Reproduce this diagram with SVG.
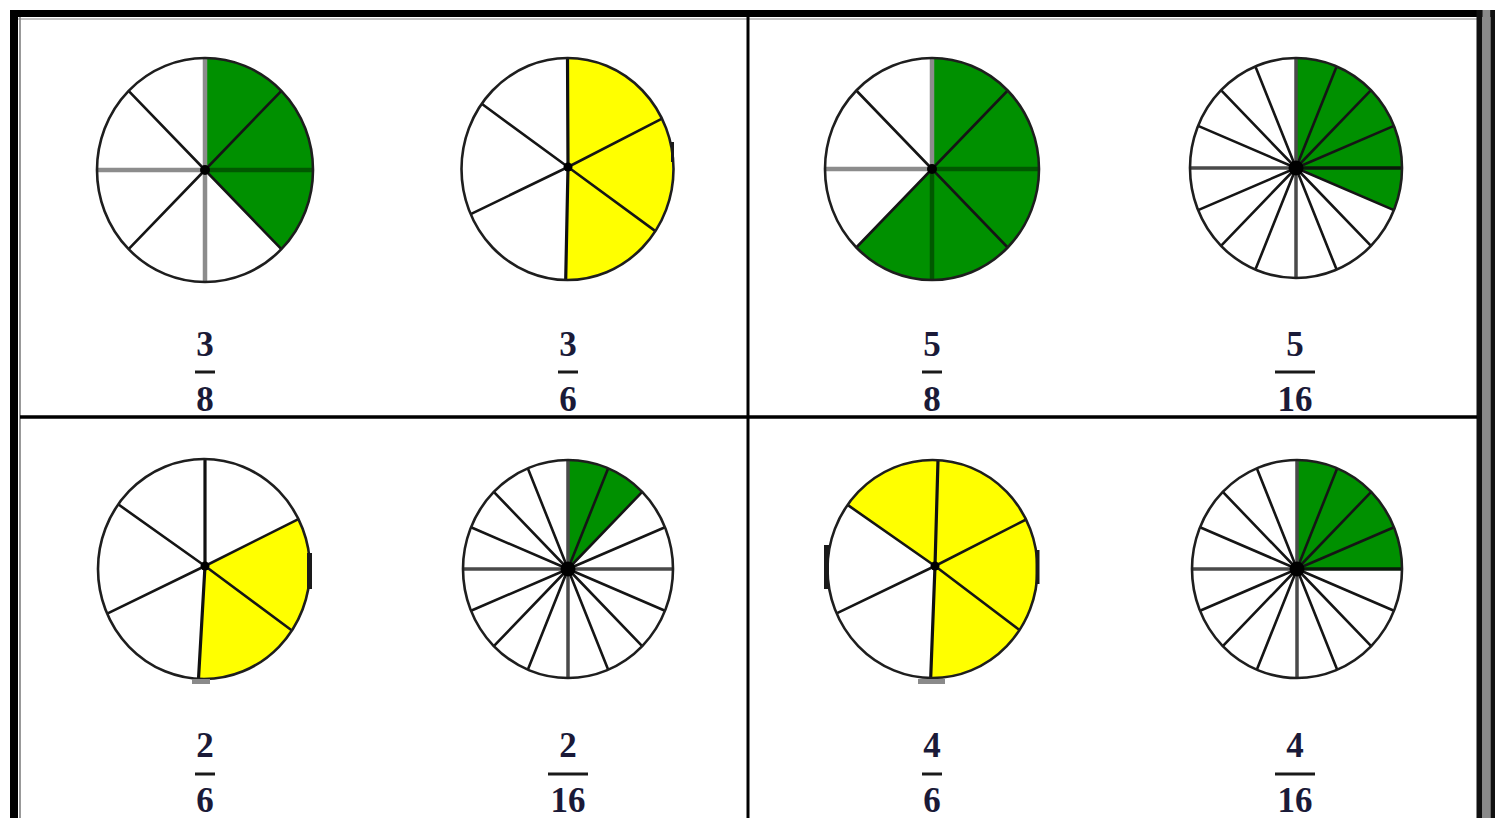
<svg xmlns="http://www.w3.org/2000/svg" width="1495" height="818" viewBox="0 0 1495 818">
<style>
.bg{fill:#ffffff}
.face{fill:#ffffff;stroke:none}
.rim{fill:none;stroke:#1e1e1e;stroke-width:2.6}
.g{fill:#009000}
.y{fill:#ffff00}
.d{stroke:#151515;stroke-width:2.6;fill:none}
.ax{stroke:#8c8c8c;stroke-width:4.5;fill:none}
.axg{stroke:#005800;stroke-width:4.5;fill:none}
.ax16{stroke:#4a4a4a;stroke-width:3.5;fill:none}
.ax16g{stroke:#0a1a0a;stroke-width:3.5;fill:none}
.v6{stroke:#111;stroke-width:3.2;fill:none}
.hub{fill:#000}
.num{font-family:"Liberation Serif","DejaVu Serif",serif;font-weight:bold;font-size:35px;fill:#1a1a38;text-anchor:middle}
.bar{stroke:#1a1a1a;stroke-width:3}
.mark{fill:#1a1a1a}
.gmark{fill:#8a8a8a}
</style>
<rect class="bg" x="0" y="0" width="1495" height="818"/>

<g id="table">
  <rect x="10" y="10" width="1485" height="7" fill="#000"/>
  <rect x="10" y="10" width="8" height="808" fill="#000"/>
  <line x1="20" y1="17" x2="20" y2="818" stroke="#777" stroke-width="1.5"/>
  <line x1="18" y1="19" x2="1477" y2="19" stroke="#888" stroke-width="1.2"/>
  <rect x="1476.5" y="10" width="6" height="808" fill="#111"/>
  <rect x="1482.5" y="10" width="8" height="808" fill="#8a8a8a"/>
  <rect x="1490.5" y="10" width="4.5" height="808" fill="#111"/>
  <line x1="748" y1="17" x2="748" y2="818" stroke="#000" stroke-width="3"/>
  <line x1="20" y1="417" x2="1477" y2="417" stroke="#000" stroke-width="3.5"/>
</g>

<g id="pie-3-8">
  <ellipse class="face" cx="205" cy="170" rx="108" ry="112"/>
  <path class="g" d="M205,170 L205,58 A108,112 0 0 1 281.4,249.2 Z"/>
  <path class="d" d="M205,170 L281.4,90.8 M205,170 L281.4,249.2 M205,170 L128.6,249.2 M205,170 L128.6,90.8"/>
  <path class="ax" d="M205,58 L205,282 M97,170 L205,170"/>
  <path class="axg" d="M205,170 L313,170"/>
  <ellipse class="rim" cx="205" cy="170" rx="108" ry="112"/>
  <circle class="hub" cx="205" cy="170" r="5"/>
  <text class="num" x="205" y="356">3</text>
  <line class="bar" x1="195" y1="372" x2="215" y2="372"/>
  <text class="num" x="205" y="411">8</text>
</g>

<g id="pie-3-6">
  <ellipse class="face" cx="567.5" cy="169" rx="106" ry="111"/>
  <path class="y" d="M568,167 L567.5,58 A106,111 0 1 1 565.7,280 Z"/>
  <path class="d" d="M568,167 L662,118.6 M568,167 L655.4,231.1 M568,167 L470.7,214.1 M568,167 L481.7,103.8"/>
  <path class="v6" d="M567.5,58 L568,167 L565.7,280"/>
  <ellipse class="rim" cx="567.5" cy="169" rx="106" ry="111"/>
  <rect class="mark" x="671" y="142" width="3" height="20"/>
  <circle class="hub" cx="568" cy="167" r="4.5"/>
  <text class="num" x="568" y="356">3</text>
  <line class="bar" x1="558" y1="372" x2="578" y2="372"/>
  <text class="num" x="568" y="411">6</text>
</g>

<g id="pie-5-8">
  <ellipse class="face" cx="932" cy="169" rx="107" ry="111"/>
  <path class="g" d="M932,169 L932,58 A107,111 0 1 1 856.3,247.5 Z"/>
  <path class="d" d="M932,169 L1007.7,90.5 M932,169 L1007.7,247.5 M932,169 L856.3,247.5 M932,169 L856.3,90.5"/>
  <path class="ax" d="M932,58 L932,169 M825,169 L932,169"/>
  <path class="axg" d="M932,169 L932,280 M932,169 L1039,169"/>
  <ellipse class="rim" cx="932" cy="169" rx="107" ry="111"/>
  <circle class="hub" cx="932" cy="169" r="5"/>
  <text class="num" x="932" y="356">5</text>
  <line class="bar" x1="922" y1="372" x2="942" y2="372"/>
  <text class="num" x="932" y="411">8</text>
</g>

<g id="pie-5-16">
  <ellipse class="face" cx="1296" cy="168" rx="106" ry="110"/>
  <path class="g" d="M1296,168 L1296,58 A106,110 0 0 1 1393.9,210.1 Z"/>
  <path class="d" d="M1296,168 L1336.6,66.4 M1296,168 L1371,90.2 M1296,168 L1393.9,125.9 M1296,168 L1393.9,210.1 M1296,168 L1371,245.8 M1296,168 L1336.6,269.6 M1296,168 L1255.4,269.6 M1296,168 L1221,245.8 M1296,168 L1198.1,210.1 M1296,168 L1198.1,125.9 M1296,168 L1221,90.2 M1296,168 L1255.4,66.4"/>
  <path class="ax16" d="M1296,58 L1296,278 M1190,168 L1296,168"/>
  <path class="ax16g" d="M1296,168 L1402,168"/>
  <ellipse class="rim" cx="1296" cy="168" rx="106" ry="110"/>
  <circle class="hub" cx="1296" cy="168" r="7.5"/>
  <text class="num" x="1295" y="356">5</text>
  <line class="bar" x1="1275" y1="372" x2="1315" y2="372"/>
  <text class="num" x="1295" y="411">16</text>
</g>

<g id="pie-2-6">
  <ellipse class="face" cx="204" cy="569" rx="106" ry="110"/>
  <path class="y" d="M205,566 L298.4,519.1 A106,110 0 0 1 198.5,678.8 Z"/>
  <path class="d" d="M205,566 L298.4,519.1 M205,566 L291.9,630.5 M205,566 L107.2,613.7 M205,566 L118.2,504.3"/>
  <path class="v6" d="M205,459 L205,566 L198.5,678.8"/>
  <ellipse class="rim" cx="204" cy="569" rx="106" ry="110"/>
  <rect class="mark" x="307" y="553" width="5" height="36"/>
  <rect class="gmark" x="192" y="679" width="18" height="5"/>
  <circle class="hub" cx="205" cy="566" r="4.5"/>
  <text class="num" x="205" y="757">2</text>
  <line class="bar" x1="195" y1="774" x2="215" y2="774"/>
  <text class="num" x="205" y="812">6</text>
</g>

<g id="pie-2-16">
  <ellipse class="face" cx="568" cy="569" rx="105" ry="109"/>
  <path class="g" d="M568,569 L568,460 A105,109 0 0 1 642.2,491.9 Z"/>
  <path class="d" d="M568,569 L608.2,468.3 M568,569 L642.2,491.9 M568,569 L665,527.3 M568,569 L665,610.7 M568,569 L642.2,646.1 M568,569 L608.2,669.7 M568,569 L527.8,669.7 M568,569 L493.8,646.1 M568,569 L471,610.7 M568,569 L471,527.3 M568,569 L493.8,491.9 M568,569 L527.8,468.3"/>
  <path class="ax16" d="M568,460 L568,678 M463,569 L673,569"/>
  <ellipse class="rim" cx="568" cy="569" rx="105" ry="109"/>
  <circle class="hub" cx="568" cy="569" r="7.5"/>
  <text class="num" x="568" y="757">2</text>
  <line class="bar" x1="548" y1="774" x2="588" y2="774"/>
  <text class="num" x="568" y="812">16</text>
</g>

<g id="pie-4-6">
  <ellipse class="face" cx="932.5" cy="569" rx="105" ry="109"/>
  <path class="y" d="M935,566 L847.6,504.9 A105,109 0 1 1 930.7,678 Z"/>
  <path class="d" d="M935,566 L1026.1,519.5 M935,566 L1019.5,630 M935,566 L836.6,613.3 M935,566 L847.6,504.9"/>
  <path class="v6" d="M938,460 L935,566 L930.7,678"/>
  <ellipse class="rim" cx="932.5" cy="569" rx="105" ry="109"/>
  <rect class="mark" x="824" y="545" width="5" height="44"/>
  <rect class="mark" x="1035.5" y="550" width="4" height="34"/>
  <rect class="gmark" x="918" y="679" width="27" height="5"/>
  <circle class="hub" cx="935" cy="566" r="4.5"/>
  <text class="num" x="932" y="757">4</text>
  <line class="bar" x1="922" y1="774" x2="942" y2="774"/>
  <text class="num" x="932" y="812">6</text>
</g>

<g id="pie-4-16">
  <ellipse class="face" cx="1297" cy="569" rx="105" ry="109"/>
  <path class="g" d="M1297,569 L1297,460 A105,109 0 0 1 1402,569 Z"/>
  <path class="d" d="M1297,569 L1337.2,468.3 M1297,569 L1371.2,491.9 M1297,569 L1394,527.3 M1297,569 L1394,610.7 M1297,569 L1371.2,646.1 M1297,569 L1337.2,669.7 M1297,569 L1256.8,669.7 M1297,569 L1222.8,646.1 M1297,569 L1200,610.7 M1297,569 L1200,527.3 M1297,569 L1222.8,491.9 M1297,569 L1256.8,468.3"/>
  <path class="ax16" d="M1297,460 L1297,678 M1192,569 L1297,569"/>
  <path class="ax16g" d="M1297,569 L1402,569"/>
  <ellipse class="rim" cx="1297" cy="569" rx="105" ry="109"/>
  <circle class="hub" cx="1297" cy="569" r="7.5"/>
  <text class="num" x="1295" y="757">4</text>
  <line class="bar" x1="1275" y1="774" x2="1315" y2="774"/>
  <text class="num" x="1295" y="812">16</text>
</g>
</svg>
